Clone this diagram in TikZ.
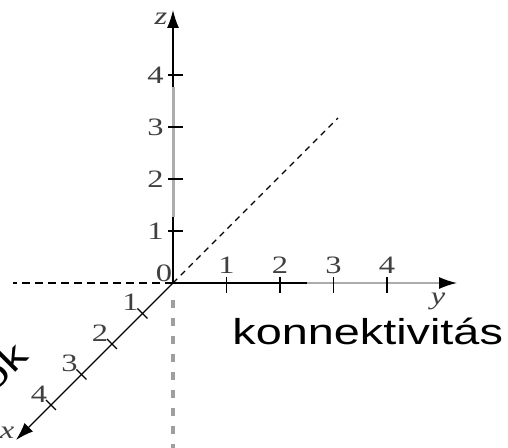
\documentclass[tikz,border=0pt]{standalone}
\usepackage{fontspec}
\setmainfont{Liberation Serif}[FakeStretch=1.3]
\newfontfamily\labelfont{Liberation Sans}[FakeStretch=1.3]
\usetikzlibrary{arrows.meta,calc}

\begin{document}
\begin{tikzpicture}[
  x=0.5pt, y=0.5pt,
  >={Latex[length=9pt,width=6pt]},
  axisline/.style={line width=0.7pt, ->},
  tickmark/.style={line width=0.6pt},
  ticklabel/.style={font=\fontsize{12.5pt}{14pt}\selectfont, text=black!75, inner sep=1pt},
  axislabel/.style={font=\fontsize{12.5pt}{14pt}\selectfont\itshape, text=black!75, inner sep=1pt},
  bigtext/.style={font=\labelfont\fontsize{18pt}{21pt}\selectfont, inner sep=0pt},
  greyline/.style={gray!65, line width=1.5pt}
]
  \useasboundingbox (-173,-165) rectangle (335,283);
  \coordinate (O) at (0,0);

  % ---------------------------------------------------------------------------
  % DASHED GUIDES
  % ---------------------------------------------------------------------------
  \draw[dash pattern=on 4pt off 2.5pt, line width=0.6pt] (O) -- (-160,0);
  \draw[dash pattern=on 3pt off 2.5pt, line width=0.6pt] (O) -- (165,165);
  \draw[gray!75, line width=1.8pt, dash pattern=on 4pt off 5pt] (0,-17) -- (0,-165);

  % ---------------------------------------------------------------------------
  % AXES
  % ---------------------------------------------------------------------------
  \draw[axisline] (O) -- (0,273) coordinate (ztip);
  \draw[axisline] (O) -- (284,0) coordinate (ytip);
  \draw[axisline] (O) -- (-157,-157) coordinate (xtip);
  \draw[greyline] (0,66) -- (0,196);
  \draw[greyline, line width=1pt] (134,0) -- (266,0);

  \node[axislabel] (zlab) at (-12,264) {z};
  \node[axislabel] (ylab) at (265,-18) {y};
  \node[axislabel] (xlab) at (-166,-150) {x};
  \node[ticklabel] (zero) at (-9,10) {0};

  % ticks
  \foreach \k in {1,...,4} {
    \draw[tickmark] (-5,52*\k) -- (10,52*\k);
    \node[ticklabel, anchor=east] at (-7,52*\k) {\k};
    \draw[tickmark] (53.5*\k,6) -- (53.5*\k,-10);
    \node[ticklabel, anchor=south] at (53.5*\k,7) {\k};
    \draw[tickmark] (-30.5*\k+5,-30.5*\k-5) -- (-30.5*\k-5,-30.5*\k+5);
    \node[ticklabel] at (-30.5*\k-12,-30.5*\k+11) {\k};
  }

  % ---------------------------------------------------------------------------
  % AXIS NAMES
  % ---------------------------------------------------------------------------
  \node[bigtext, anchor=base west] (conn) at (59,-62) {konnektivitás};
  \node[bigtext, anchor=base east, rotate=45] (ok) at (-143,-75) {ok};

\end{tikzpicture}
\end{document}
